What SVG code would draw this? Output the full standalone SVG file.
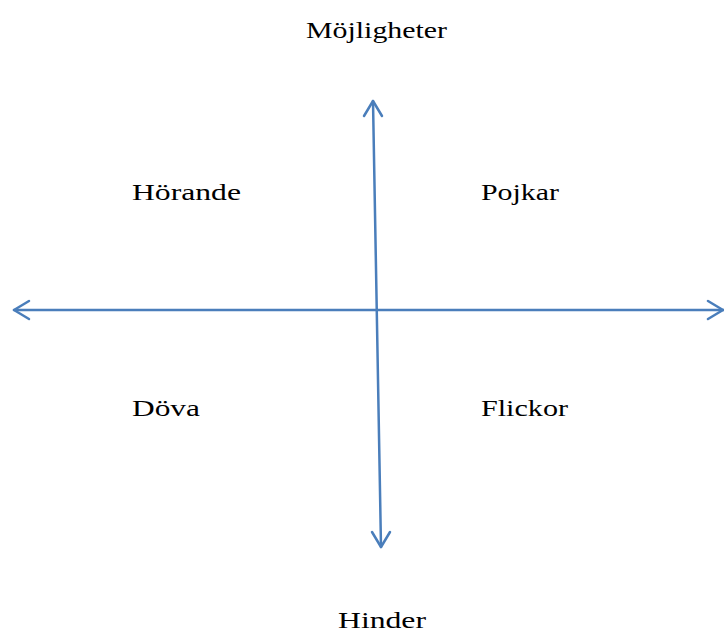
<svg xmlns="http://www.w3.org/2000/svg" width="724" height="634" viewBox="0 0 724 634">
<style>
.t{font-family:"Liberation Serif","Times New Roman",serif;font-size:24px;fill:#000}
.ax{stroke:#4a7ebb;stroke-width:2.5;fill:none;stroke-linecap:round;stroke-linejoin:round}
</style>
<rect width="724" height="634" fill="#fff"/>
<g id="connectors">
<line class="ax" x1="373" y1="101" x2="381" y2="547"/>
<polyline class="ax" points="364,116 373,101 382,116"/>
<polyline class="ax" points="372,532 381,547 390,532"/>
<line class="ax" x1="14" y1="310" x2="724" y2="310"/>
<polyline class="ax" points="29,301 14,310 29,319"/>
<polyline class="ax" points="708,301 723,310 708,319"/>
</g>
<g id="n-mojligheter"><text class="t" x="306" y="38" textLength="141" lengthAdjust="spacingAndGlyphs">Möjligheter</text></g>
<g id="n-horande"><text class="t" x="132" y="200" textLength="109" lengthAdjust="spacingAndGlyphs">Hörande</text></g>
<g id="n-pojkar"><text class="t" x="481" y="200" textLength="78" lengthAdjust="spacingAndGlyphs">Pojkar</text></g>
<g id="n-dova"><text class="t" x="132" y="416" textLength="68" lengthAdjust="spacingAndGlyphs">Döva</text></g>
<g id="n-flickor"><text class="t" x="481" y="416" textLength="87" lengthAdjust="spacingAndGlyphs">Flickor</text></g>
<g id="n-hinder"><text class="t" x="338" y="628" textLength="88" lengthAdjust="spacingAndGlyphs">Hinder</text></g>
</svg>
